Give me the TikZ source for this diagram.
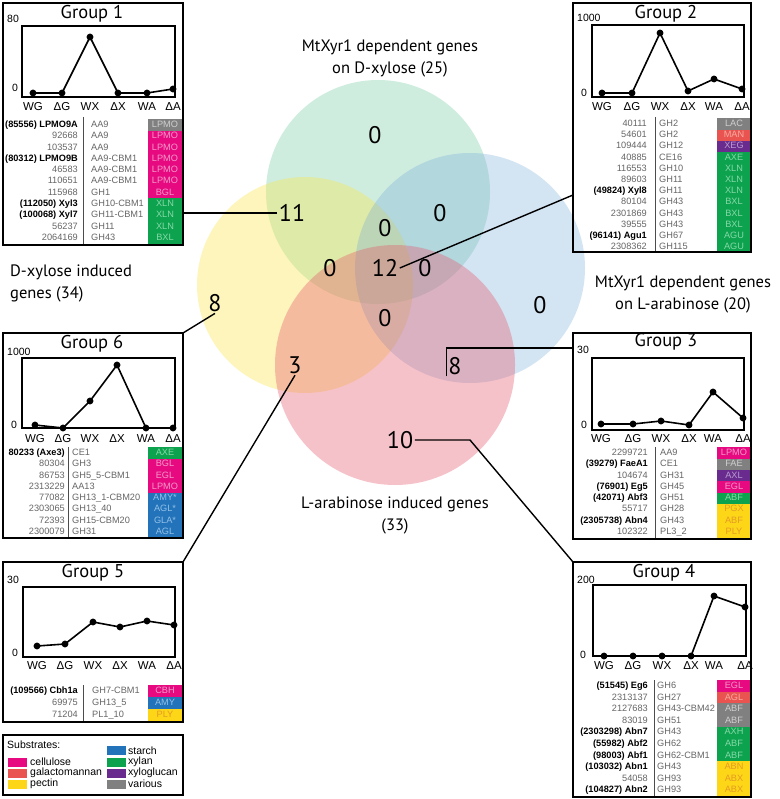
\documentclass[tikz,border=0pt]{standalone}
\usepackage{fontspec}
\setmainfont{Liberation Sans}
\newfontfamily\myr{PT Sans}
\definecolor{cellulose}{HTML}{E6097F}
\definecolor{galacto}{HTML}{EA5450}
\definecolor{pectin}{HTML}{FCD617}
\definecolor{starch}{HTML}{2273BA}
\definecolor{xylan}{HTML}{0DA24E}
\definecolor{xylog}{HTML}{692C8E}
\definecolor{various}{HTML}{808080}
\definecolor{celluloseT}{HTML}{F49ACB}
\definecolor{galactoT}{HTML}{F8AAA2}
\definecolor{pectinT}{HTML}{E59B25}
\definecolor{starchT}{HTML}{93C0E8}
\definecolor{xylanT}{HTML}{86D9A9}
\definecolor{xylogT}{HTML}{B89BD0}
\definecolor{variousT}{HTML}{CFCFCF}
\definecolor{vG}{HTML}{4FBF8A}
\definecolor{vY}{HTML}{FBE53F}
\definecolor{vB}{HTML}{6FA6DA}
\definecolor{vP}{HTML}{E8576B}
\newcount\cellno
\newcommand\bn[1]{\textcolor{black}{\bfseries #1}}
\newcommand\tr[5]{%
  \global\advance\cellno by 1
  \fill[#5] (\cL,#1-\hh) rectangle (\cR,#1+\hh);
  \node[idtxt] (id\the\cellno) at (\cA,#1) {#2};
  \node[famtxt] (fam\the\cellno) at (\cB,#1) {#3};
  \node[codetxt,text=#5T] (code\the\cellno) at ({(\cL+\cR)/2},#1) {#4};
}
\begin{document}
\begin{tikzpicture}[x=1pt,y=-1pt,
  gbox/.style={draw,line width=1.8pt,inner sep=0pt,outer sep=0pt},
  pframe/.style={line width=1.4pt},
  dline/.style={line width=1.6pt,line join=round},
  grptitle/.style={font=\myr\fontsize{18.5}{18}\selectfont,inner sep=0pt},
  axlab/.style={font=\fontsize{11.5}{12}\selectfont,inner sep=0pt},
  ticklab/.style={font=\fontsize{10.5}{11}\selectfont,inner sep=0pt},
  idtxt/.style={font=\fontsize{9.2}{10}\selectfont,text=black!60,anchor=east,inner sep=0pt,text height=6.7pt,text depth=1.8pt},
  famtxt/.style={font=\fontsize{9.2}{10}\selectfont,text=black!60,anchor=west,inner sep=0pt,text height=6.7pt,text depth=1.8pt},
  codetxt/.style={font=\fontsize{9.2}{10}\selectfont,inner sep=0pt,text height=6.7pt,text depth=1.8pt},
  divline/.style={line width=0.7pt,black!70},
  vnum/.style={font=\myr\fontsize{24}{24}\selectfont,inner sep=1.5pt},
  vlab/.style={font=\myr\fontsize{16.5}{22}\selectfont,inner sep=0pt},
  conn/.style={line width=1.4pt},
  vcirc/.style={circle,inner sep=0pt,outer sep=0pt},
  swatch/.style={minimum width=19pt,minimum height=9pt,inner sep=0pt},
  legtxt/.style={font=\fontsize{10.5}{11}\selectfont,inner sep=0pt,anchor=west}]
\useasboundingbox (0,0) rectangle (779,799);
\fill[white] (0,0) rectangle (779,799);

% ---------- Venn ----------
\node[vcirc,minimum size=224pt,fill=vG,fill opacity=.27] (cG) at (378,192) {};
\node[vcirc,minimum size=216pt,fill=vY,fill opacity=.35] (cY) at (305,285) {};
\node[vcirc,minimum size=230pt,fill=vB,fill opacity=.30] (cB) at (470,268) {};
\node[vcirc,minimum size=240pt,fill=vP,fill opacity=.36] (cP) at (395,365) {};

\node[vnum] (vG) at (375,135) {0};
\node[vnum] (v11) at (292,213) {11};
\node[vnum] (vGYB) at (385,228) {0};
\node[vnum] (vGB) at (440,213) {0};
\node[vnum] (vB) at (540,305) {0};
\node[vnum] (v8y) at (215,303) {8};
\node[vnum] (vGYP) at (330,268) {0};
\node[vnum] (v12) at (385,268) {12};
\node[vnum] (vGBP) at (425,268) {0};
\node[vnum] (vYBP) at (385,318) {0};
\node[vnum] (v3) at (295,365) {3};
\node[vnum] (v8p) at (455,366) {8};
\node[vnum] (v10) at (400,440) {10};

\node[vlab,align=center] (lG) at (390,58) {MtXyr1 dependent genes\\on D-xylose (25)};
\node[vlab,align=left,anchor=west] (lY) at (10,283) {D-xylose induced\\genes (34)};
\node[vlab,align=center] (lB) at (683,294) {MtXyr1 dependent genes\\on L-arabinose (20)};
\node[vlab,align=center] (lP) at (395,515) {L-arabinose induced genes\\(33)};

% ---------- boxes ----------
\node[gbox,minimum width=180pt,minimum height=242pt] (g1) at (93,124) {};
\node[gbox,minimum width=178pt,minimum height=249pt] (g2) at (662,127.5) {};
\node[gbox,minimum width=180pt,minimum height=205pt] (g6) at (93,435.5) {};
\node[gbox,minimum width=178pt,minimum height=206pt] (g3) at (662,436) {};
\node[gbox,minimum width=180pt,minimum height=160pt] (g5) at (93,642) {};
\node[gbox,minimum width=178pt,minimum height=235pt] (g4) at (662,679.5) {};
\node[gbox,minimum width=180pt,minimum height=60pt] (leg) at (93,765) {};

% ---------- connectors ----------
\coordinate (g2hit) at (573,195);
\coordinate (g3hit) at (573,348);
\coordinate (c10) at (470,440);
\draw[conn] (v11.west) -- (v11.west -| g1.east);
\draw[conn] (v12.east) -- (g2hit);
\draw[conn] (v8y.south) -- (g6.north east);
\draw[conn] (v8p.south west) |- (g3hit);
\draw[conn] (v3.south) -- (g5.north east);
\draw[conn] (v10.east) -- (c10) -- (g4.north west);

% ---------- Group 1 ----------
\node[grptitle] (g1t) at (92,14) {Group 1};
\node[ticklab,anchor=west] (g1ym) at (7,19) {80};
\node[ticklab] (g1y0) at (15,88) {0};
\draw[pframe] (22,26) rectangle (175,97);
\draw[dline] plot[mark=*,mark size=2.6pt] coordinates {(33,93) (62,93) (90,37) (118,93) (147,93) (173,89)};
\foreach \x/\t [count=\i] in {33/WG,62/ΔG,90/WX,118/ΔX,147/WA,173/ΔA}
  \node[axlab] (g1x\i) at (\x,107) {\t};
\def\cA{78}\def\cB{91}\def\cL{148}\def\cR{182}\def\hh{5.7}
\tr{125}{\bn{(85556) LPMO9A}}{AA9}{LPMO}{various}
\tr{136.3}{92668}{AA9}{LPMO}{cellulose}
\tr{147.6}{103537}{AA9}{LPMO}{cellulose}
\tr{158.9}{\bn{(80312) LPMO9B}}{AA9-CBM1}{LPMO}{cellulose}
\tr{170.2}{46583}{AA9-CBM1}{LPMO}{cellulose}
\tr{181.5}{110651}{AA9-CBM1}{LPMO}{cellulose}
\tr{192.8}{115968}{GH1}{BGL}{cellulose}
\tr{204.1}{\bn{(112050) Xyl3}}{GH10-CBM1}{XLN}{xylan}
\tr{215.4}{\bn{(100068) Xyl7}}{GH11-CBM1}{XLN}{xylan}
\tr{226.7}{56237}{GH11}{XLN}{xylan}
\tr{238}{2064169}{GH43}{BXL}{xylan}
\draw[divline] (83,117) -- (83,245);
\node[gbox,minimum width=180pt,minimum height=242pt] (g1b) at (93,124) {};

% ---------- Group 2 ----------
\node[grptitle] (g2t) at (666,14) {Group 2};
\node[ticklab,anchor=west] (g2ym) at (577,18) {1000};
\node[ticklab] (g2y0) at (584,93) {0};
\draw[pframe] (592,25) rectangle (744,97);
\draw[dline] plot[mark=*,mark size=2.6pt] coordinates {(602,93) (632,93) (660,33) (688,91) (714,79) (742,89)};
\foreach \x/\t [count=\i] in {602/WG,632/ΔG,660/WX,688/ΔX,714/WA,742/ΔA}
  \node[axlab] (g2x\i) at (\x,107) {\t};
\def\cA{647}\def\cB{659}\def\cL{717}\def\cR{751}\def\hh{5.65}
\tr{124}{40111}{GH2}{LAC}{various}
\tr{135.2}{54601}{GH2}{MAN}{galacto}
\tr{146.4}{109444}{GH12}{XEG}{xylog}
\tr{157.6}{40885}{CE16}{AXE}{xylan}
\tr{168.8}{116553}{GH10}{XLN}{xylan}
\tr{180}{89603}{GH11}{XLN}{xylan}
\tr{191.2}{\bn{(49824) Xyl8}}{GH11}{XLN}{xylan}
\tr{202.4}{80104}{GH43}{BXL}{xylan}
\tr{213.6}{2301869}{GH43}{BXL}{xylan}
\tr{224.8}{39555}{GH43}{BXL}{xylan}
\tr{236}{\bn{(96141) Agu1}}{GH67}{AGU}{xylan}
\tr{247.2}{2308362}{GH115}{AGU}{xylan}
\draw[divline] (655,117) -- (655,252);
\node[gbox,minimum width=178pt,minimum height=249pt] (g2b) at (662,127.5) {};

% ---------- Group 6 ----------
\node[grptitle] (g6t) at (92,344) {Group 6};
\node[ticklab,anchor=west] (g6ym) at (7,352) {1000};
\node[ticklab] (g6y0) at (14,425) {0};
\draw[pframe] (22,358) rectangle (175,428);
\draw[dline] plot[mark=*,mark size=2.6pt] coordinates {(35,425) (63,428) (90,401) (117,365) (146,428) (173,428)};
\foreach \x/\t [count=\i] in {35/WG,63/ΔG,90/WX,117/ΔX,146/WA,173/ΔA}
  \node[axlab] (g6x\i) at (\x,439) {\t};
\def\cA{65}\def\cB{72}\def\cL{148}\def\cR{182}\def\hh{5.7}
\tr{453}{\bn{80233 (Axe3)}}{CE1}{AXE}{xylan}
\tr{464.3}{80304}{GH3}{BGL}{cellulose}
\tr{475.6}{86753}{GH5\_5-CBM1}{EGL}{cellulose}
\tr{486.9}{2313229}{AA13}{LPMO}{cellulose}
\tr{498.2}{77082}{GH13\_1-CBM20}{AMY*}{starch}
\tr{509.5}{2303065}{GH13\_40}{AGL*}{starch}
\tr{520.8}{72393}{GH15-CBM20}{GLA*}{starch}
\tr{532.1}{2300079}{GH31}{AGL}{starch}
\draw[divline] (68,447) -- (68,538);
\node[gbox,minimum width=180pt,minimum height=205pt] (g6b) at (93,435.5) {};

% ---------- Group 3 ----------
\node[grptitle] (g3t) at (666,342) {Group 3};
\node[ticklab,anchor=west] (g3ym) at (577,350) {30};
\node[ticklab] (g3y0) at (584,425) {0};
\draw[pframe] (592,358) rectangle (744,430);
\draw[dline] plot[mark=*,mark size=2.6pt] coordinates {(601,424) (633,424) (661,421) (689,425) (713,392) (743,418)};
\foreach \x/\t [count=\i] in {601/WG,633/ΔG,661/WX,689/ΔX,713/WA,743/ΔA}
  \node[axlab] (g3x\i) at (\x,439) {\t};
\def\cA{648}\def\cB{660}\def\cL{717}\def\cR{751}\def\hh{5.7}
\tr{453}{2299721}{AA9}{LPMO}{cellulose}
\tr{464.3}{\bn{(39279) FaeA1}}{CE1}{FAE}{various}
\tr{475.6}{104674}{GH31}{AXL}{xylog}
\tr{486.9}{\bn{(76901) Eg5}}{GH45}{EGL}{cellulose}
\tr{498.2}{\bn{(42071) Abf3}}{GH51}{ABF}{xylan}
\tr{509.5}{55717}{GH28}{PGX}{pectin}
\tr{520.8}{\bn{(2305738) Abn4}}{GH43}{ABF}{pectin}
\tr{532.1}{102322}{PL3\_2}{PLY}{pectin}
\draw[divline] (655,447) -- (655,539);
\node[gbox,minimum width=178pt,minimum height=206pt] (g3b) at (662,436) {};

% ---------- Group 5 ----------
\node[grptitle] (g5t) at (93,573) {Group 5};
\node[ticklab,anchor=west] (g5ym) at (7,580) {30};
\node[ticklab] (g5y0) at (15,653) {0};
\draw[pframe] (23,587) rectangle (175,657);
\draw[dline] plot[mark=*,mark size=2.6pt] coordinates {(37,646) (65,644) (93,622) (120,627) (147,621) (174,625)};
\foreach \x/\t [count=\i] in {37/WG,65/ΔG,93/WX,120/ΔX,147/WA,174/ΔA}
  \node[axlab] (g5x\i) at (\x,666) {\t};
\def\cA{78}\def\cB{92}\def\cL{148}\def\cR{182}\def\hh{6}
\tr{691}{\bn{(109566) Cbh1a}}{GH7-CBM1}{CBH}{cellulose}
\tr{703}{69975}{GH13\_5}{AMY}{starch}
\tr{715}{71204}{PL1\_10}{PLY}{pectin}
\draw[divline] (83,685) -- (83,722);
\node[gbox,minimum width=180pt,minimum height=160pt] (g5b) at (93,642) {};

% ---------- Group 4 ----------
\node[grptitle] (g4t) at (664,573) {Group 4};
\node[ticklab,anchor=west] (g4ym) at (577,580) {200};
\node[ticklab] (g4y0) at (583,655) {0};
\draw[pframe] (593,585) rectangle (746,656);
\draw[dline] plot[mark=*,mark size=2.6pt] coordinates {(604,656) (633,656) (662,656) (691,656) (714,596) (745,607)};
\foreach \x/\t [count=\i] in {604/WG,633/ΔG,662/WX,691/ΔX,714/WA,745/ΔA}
  \node[axlab] (g4x\i) at (\x,666) {\t};
\def\cA{648}\def\cB{657}\def\cL{717}\def\cR{751}\def\hh{5.8}
\tr{686}{\bn{(51545) Eg6}}{GH6}{EGL}{cellulose}
\tr{697.6}{2313137}{GH27}{AGL}{galacto}
\tr{709.2}{2127683}{GH43-CBM42}{ABF}{various}
\tr{720.8}{83019}{GH51}{ABF}{various}
\tr{732.4}{\bn{(2303298) Abn7}}{GH43}{AXH}{xylan}
\tr{744}{\bn{(55982) Abf2}}{GH62}{ABF}{xylan}
\tr{755.6}{\bn{(98003) Abf1}}{GH62-CBM1}{ABF}{xylan}
\tr{767.2}{\bn{(103032) Abn1}}{GH43}{ABN}{pectin}
\tr{778.8}{54058}{GH93}{ABX}{pectin}
\tr{790.4}{\bn{(104827) Abn2}}{GH93}{ABX}{pectin}
\draw[divline] (654,680) -- (654,797);
\node[gbox,minimum width=178pt,minimum height=235pt] (g4b) at (662,679.5) {};

% ---------- Legend ----------
\node[legtxt] (lsub) at (7,745) {Substrates:};
\node[swatch,fill=cellulose] (sw1) at (17.5,762) {};
\node[swatch,fill=galacto] (sw2) at (17.5,773) {};
\node[swatch,fill=pectin] (sw3) at (17.5,784) {};
\node[swatch,fill=starch] (sw4) at (116,750.5) {};
\node[swatch,fill=xylan] (sw5) at (116,762) {};
\node[swatch,fill=xylog] (sw6) at (116,773) {};
\node[swatch,fill=various] (sw7) at (116,784) {};
\node[legtxt] (lt1) at (30,762) {cellulose};
\node[legtxt] (lt2) at (30,773) {galactomannan};
\node[legtxt] (lt3) at (30,784) {pectin};
\node[legtxt] (lt4) at (128,750.5) {starch};
\node[legtxt] (lt5) at (128,762) {xylan};
\node[legtxt] (lt6) at (128,773) {xyloglucan};
\node[legtxt] (lt7) at (128,784) {various};
\end{tikzpicture}
\end{document}
